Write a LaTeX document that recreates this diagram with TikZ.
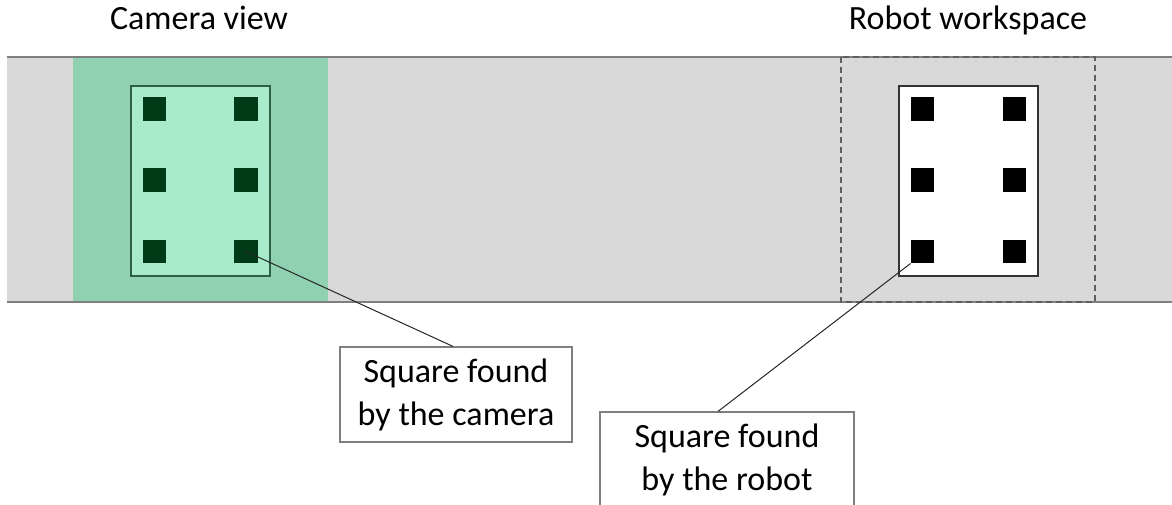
\documentclass[tikz,border=0pt]{standalone}
\usepackage{fontspec}
\setmainfont{Carlito}
\definecolor{bandgrey}{HTML}{D9D9D9}
\definecolor{edgegrey}{HTML}{7F7F7F}
\definecolor{dashgrey}{HTML}{5F5F5F}
\definecolor{camgreen}{HTML}{8FD1B0}
\definecolor{lightgreen}{HTML}{A8EBCB}
\definecolor{darkgreen}{HTML}{003A17}
\definecolor{framegreen}{HTML}{2F5F45}
\tikzset{
  x=1pt, y=-1pt,
  camsq/.style={fill=darkgreen, draw=none, minimum size=23.5pt, inner sep=0pt},
  robsq/.style={fill=black, draw=none, minimum size=23.5pt, inner sep=0pt},
  title/.style={anchor=base, font=\fontsize{34}{40}\selectfont},
  labelbox/.style={draw=edgegrey, line width=1.2pt, fill=white, align=center, inner sep=0pt,
     minimum height=95pt, font=\fontsize{34}{43}\selectfont},
  leader/.style={draw=black!85, line width=1pt}
}
\begin{document}
\begin{tikzpicture}
\useasboundingbox (0,0) rectangle (1172,504);
% conveyor band
\fill[bandgrey] (7,57) rectangle (1172,302);
\fill[camgreen] (73,57) rectangle (328,302);
\draw[edgegrey, line width=2pt] (7,57) -- (1172,57);
\draw[edgegrey, line width=2pt] (7,302) -- (1172,302);
% camera view sheet
\node[draw=framegreen, line width=1.2pt, fill=lightgreen, minimum width=139pt, minimum height=190pt, inner sep=0pt] (camsheet) at (200.5,181) {};
\node[camsq] (c1) at (154.5,109) {};
\node[camsq] (c2) at (246,109) {};
\node[camsq] (c3) at (154.5,180) {};
\node[camsq] (c4) at (246,180) {};
\node[camsq] (c5) at (154.5,251.5) {};
\node[camsq] (c6) at (246,251.5) {};
% robot workspace
\draw[dashgrey, line width=1.5pt, dash pattern=on 6pt off 4pt] (841,57) rectangle (1095,302);
\node[draw=black!80, line width=1.2pt, fill=white, minimum width=139pt, minimum height=190pt, inner sep=0pt] (robsheet) at (968.5,181) {};
\node[robsq] (r1) at (922.5,109) {};
\node[robsq] (r2) at (1014.5,109) {};
\node[robsq] (r3) at (922.5,180) {};
\node[robsq] (r4) at (1014.5,180) {};
\node[robsq] (r5) at (922.5,251.5) {};
\node[robsq] (r6) at (1014.5,251.5) {};
% titles
\node[title] (tcam) at (199,29) {Camera view};
\node[title] (trob) at (968,29) {Robot workspace};
% label boxes
\node[labelbox, minimum width=232pt] (box1) at (456,394.5) {Square found\\by the camera};
\node[labelbox, minimum width=254pt] (box2) at (727,459.5) {Square found\\by the robot};
\coordinate (e1) at (box1.north -| 453,0);
\coordinate (e2) at (box2.north -| 718,0);
\draw[leader] (c6.center) -- (e1);
\draw[leader] (r5.south west) -- (e2);
\end{tikzpicture}
\end{document}
